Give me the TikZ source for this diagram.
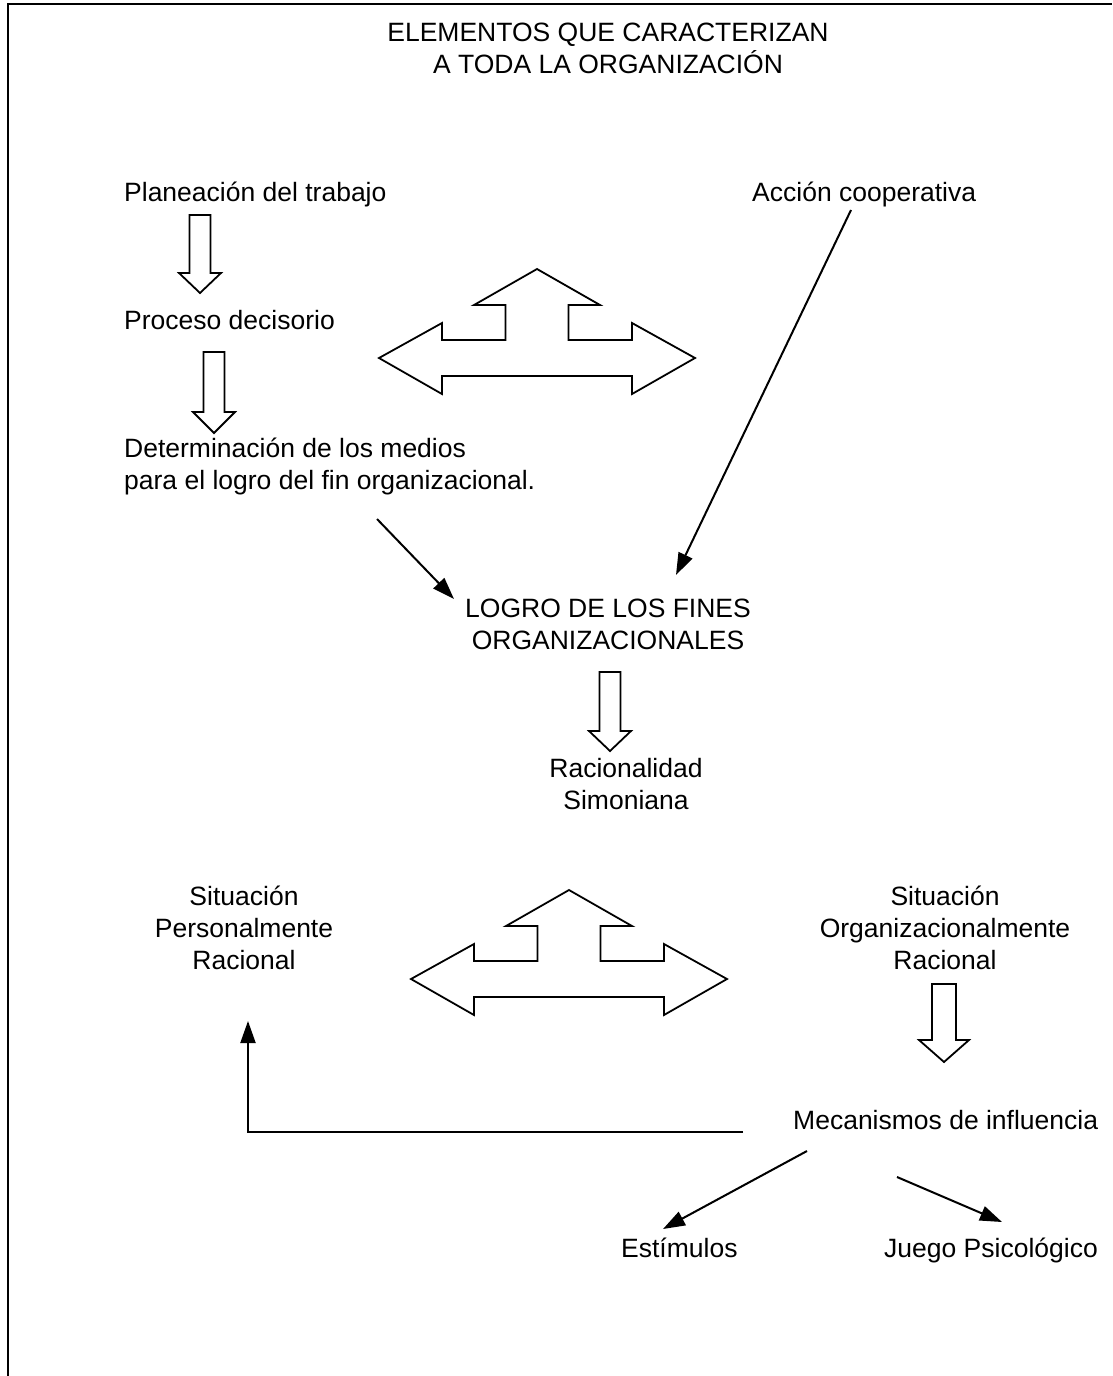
\documentclass[tikz,border=0pt]{standalone}
\usepackage{fontspec}
\setmainfont{Liberation Sans}
\usetikzlibrary{arrows.meta}
\begin{document}
\begin{tikzpicture}[x=1pt,y=-1pt,
  lbl/.style={inner sep=0pt, font=\fontsize{26.5}{32}\selectfont},
  blk/.style={draw=black, line width=1.8pt, line join=miter, fill=white},
  con/.style={draw=black, line width=2pt, -{Triangle[length=22pt,width=15pt]}},
  frame/.style={draw=black, line width=2.2pt},
  trident/.pic={
    \draw[blk] (0,0) -- (63,36) -- (31.5,36) -- (31.5,71) -- (95,71) -- (95,54)
      -- (158,89) -- (95,125) -- (95,107) -- (-95,107) -- (-95,125) -- (-158,89)
      -- (-95,54) -- (-95,71) -- (-31.5,71) -- (-31.5,36) -- (-63,36) -- cycle;
  }]
\useasboundingbox (0,0) rectangle (1112,1376);
\draw[frame] (8,1376) -- (8,4) -- (1112,4);

% texts (baselines on a 32pt line grid)
\node[lbl,anchor=base] (tituloA) at (608,41) {ELEMENTOS QUE CARACTERIZAN};
\node[lbl,anchor=base] (tituloB) at (608,73) {A TODA LA ORGANIZACIÓN};
\node[lbl,anchor=base west] (planeacion) at (124,201) {Planeación del trabajo};
\node[lbl,anchor=base west] (accion) at (752,201) {Acción cooperativa};
\node[lbl,anchor=base west] (proceso) at (124,329) {Proceso decisorio};
\node[lbl,anchor=base west] (mediosA) at (124,457) {Determinación de los medios};
\node[lbl,anchor=base west] (mediosB) at (124,489) {para el logro del fin organizacional.};
\node[lbl,anchor=base] (logroA) at (608,617) {LOGRO DE LOS FINES};
\node[lbl,anchor=base] (logroB) at (608,649) {ORGANIZACIONALES};
\node[lbl,anchor=base] (racA) at (626,777) {Racionalidad};
\node[lbl,anchor=base] (racB) at (626,809) {Simoniana};
\node[lbl,anchor=base] (persA) at (244,905) {Situación};
\node[lbl,anchor=base] (persB) at (244,937) {Personalmente};
\node[lbl,anchor=base] (persC) at (244,969) {Racional};
\node[lbl,anchor=base] (orgA) at (945,905) {Situación};
\node[lbl,anchor=base] (orgB) at (945,937) {Organizacionalmente};
\node[lbl,anchor=base] (orgC) at (945,969) {Racional};
\node[lbl,anchor=base west] (mecanismos) at (793,1129) {Mecanismos de influencia};
\node[lbl,anchor=base west] (estimulos) at (621,1257) {Estímulos};
\node[lbl,anchor=base west] (juego) at (884,1257) {Juego Psicológico};

% hollow down arrows
\draw[blk] (189.5,215) -- (210.5,215) -- (210.5,273) -- (221,273) -- (200,293) -- (179,273) -- (189.5,273) -- cycle;
\draw[blk] (203.5,352) -- (224.5,352) -- (224.5,412) -- (235,412) -- (214,433) -- (193,412) -- (203.5,412) -- cycle;
\draw[blk] (599.5,672) -- (620.5,672) -- (620.5,731) -- (631,731) -- (610,751) -- (589,731) -- (599.5,731) -- cycle;
\draw[blk] (932,984) -- (956,984) -- (956,1040) -- (969,1040) -- (944,1062) -- (919,1040) -- (932,1040) -- cycle;

% three-way arrows
\pic at (537,269) {trident};
\pic at (569,890) {trident};

% connectors
\coordinate (c1s) at (377,519);
\coordinate (c1e) at (454,599);
\draw[con] (c1s) -- (c1e);
\coordinate (c2s) at (851,210);
\coordinate (c2e) at (676,575);
\draw[con] (c2s) -- (c2e);
\coordinate (c3s) at (743,1132);
\coordinate (c3e) at (248,1021);
\draw[con] (c3s) -| (c3e);
\coordinate (c4s) at (807,1151);
\coordinate (c4e) at (663,1229);
\draw[con] (c4s) -- (c4e);
\coordinate (c5s) at (897,1177);
\coordinate (c5e) at (1002,1222);
\draw[con] (c5s) -- (c5e);
\end{tikzpicture}
\end{document}
